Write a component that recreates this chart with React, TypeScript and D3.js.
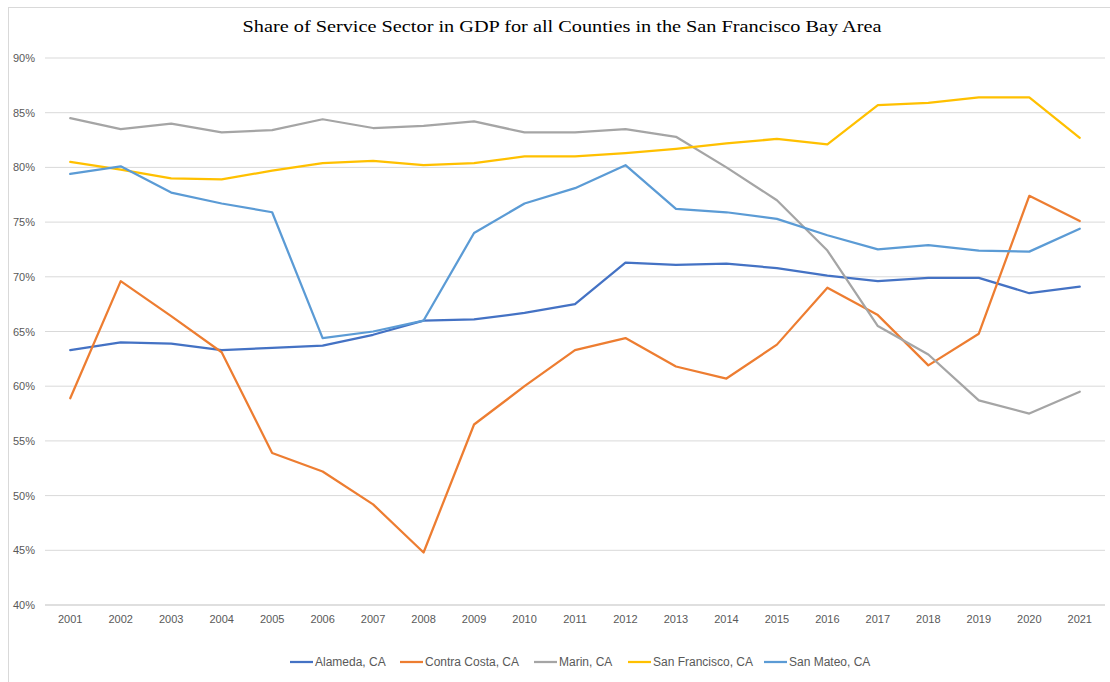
import React from "react";
import * as d3 from "d3";

const years = ["2001","2002","2003","2004","2005","2006","2007","2008","2009","2010","2011","2012","2013","2014","2015","2016","2017","2018","2019","2020","2021"];
const alameda = [63.3,64.0,63.9,63.3,63.5,63.7,64.7,66.0,66.1,66.7,67.5,71.3,71.1,71.2,70.8,70.1,69.6,69.9,69.9,68.5,69.1];
const contraCosta = [58.9,69.6,66.4,63.1,53.9,52.2,49.2,44.8,56.5,60.0,63.3,64.4,61.8,60.7,63.8,69.0,66.5,61.9,64.8,77.4,75.1];
const marin = [84.5,83.5,84.0,83.2,83.4,84.4,83.6,83.8,84.2,83.2,83.2,83.5,82.8,80.0,77.0,72.4,65.5,62.9,58.7,57.5,59.5];
const sanFrancisco = [80.5,79.8,79.0,78.9,79.7,80.4,80.6,80.2,80.4,81.0,81.0,81.3,81.7,82.2,82.6,82.1,85.7,85.9,86.4,86.4,82.7];
const sanMateo = [79.4,80.1,77.7,76.7,75.9,64.4,65.0,66.0,74.0,76.7,78.1,80.2,76.2,75.9,75.3,73.8,72.5,72.9,72.4,72.3,74.4];
const yTicks = [40,45,50,55,60,65,70,75,80,85,90];
const seriesNames = ["Alameda, CA","Contra Costa, CA","Marin, CA","San Francisco, CA","San Mateo, CA"];
const seriesColors = ["#4472C4","#ED7D31","#A5A5A5","#FFC000","#5B9BD5"];
const title = "Share of Service Sector in GDP for all Counties in the San Francisco Bay Area";

export default function App() {
  const W = 1110, H = 682;
  const left = 45, right = 1105, top = 58, bottom = 605;
  const x = d3.scaleBand<string>().domain(years).range([left, right]);
  const y = d3.scaleLinear().domain([40, 90]).range([bottom, top]);
  const data = [alameda, contraCosta, marin, sanFrancisco, sanMateo];
  const line = d3.line<number>()
    .x((_, i) => (x(years[i]) as number) + x.bandwidth() / 2)
    .y((v) => y(v));
  const legendX = [290, 400, 534, 628, 764];
  const font = "'Liberation Sans', Arial, sans-serif";
  return (
    <svg width={W} height={H} style={{ position: "absolute", left: 0, top: 0, display: "block", background: "#fff" }}>
      <rect x={8.5} y={7.5} width={W} height={H} fill="#fff" stroke="#D9D9D9" />
      <text x={562} y={32} textAnchor="middle" fontFamily="'Liberation Serif', 'DejaVu Serif', serif" fontSize={16} fill="#000" textLength={639} lengthAdjust="spacingAndGlyphs">{title}</text>
      {yTicks.map((t) => (
        <g key={t}>
          <line x1={left} x2={right} y1={y(t)} y2={y(t)} stroke={t === 40 ? "#BFBFBF" : "#D9D9D9"} strokeWidth={1} />
          <text x={35} y={y(t) + 4} textAnchor="end" fontFamily={font} fontSize={11} fill="#595959">{t}%</text>
        </g>
      ))}
      {years.map((yr) => (
        <text key={yr} x={(x(yr) as number) + x.bandwidth() / 2} y={623} textAnchor="middle" fontFamily={font} fontSize={11} fill="#595959">{yr}</text>
      ))}
      {data.map((d, i) => (
        <path key={i} d={line(d) || ""} fill="none" stroke={seriesColors[i]} strokeWidth={2.25} strokeLinejoin="round" strokeLinecap="round" />
      ))}
      {seriesNames.map((n, i) => (
        <g key={n}>
          <line x1={legendX[i]} x2={legendX[i] + 23} y1={662} y2={662} stroke={seriesColors[i]} strokeWidth={2.25} />
          <text x={legendX[i] + 25} y={666} fontFamily={font} fontSize={12} fill="#595959">{n}</text>
        </g>
      ))}
    </svg>
  );
}
